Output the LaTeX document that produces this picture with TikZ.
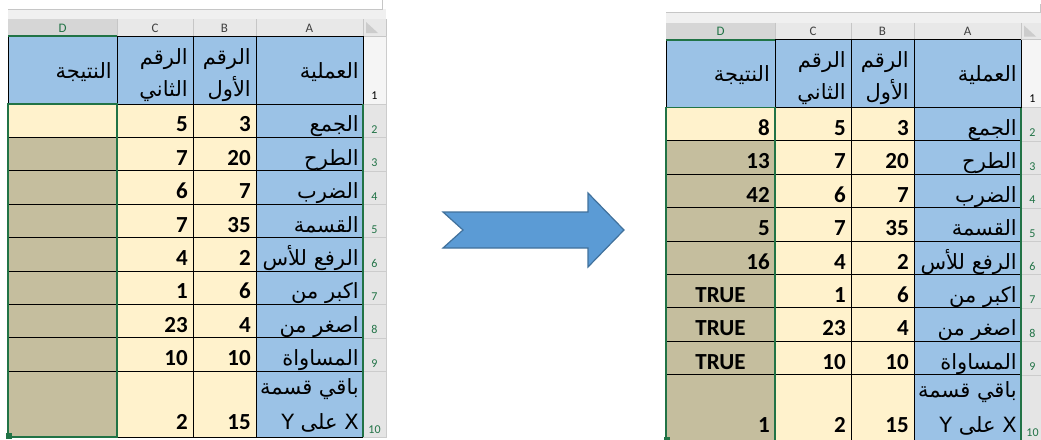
\documentclass[tikz,border=0pt]{standalone}
\usepackage{fontspec}
\setmainfont{Carlito}
\newfontfamily\arabicfont[Script=Arabic]{DejaVu Sans}
\TeXXeTstate=1

\definecolor{hdrblue}{RGB}{155,194,230}
\definecolor{cream}{RGB}{255,242,204}
\definecolor{tan}{RGB}{197,190,158}
\definecolor{xlgreen}{RGB}{33,115,70}
\definecolor{arrowblue}{RGB}{91,155,213}
\definecolor{arrowedge}{RGB}{65,113,156}

\tikzset{
  cellline/.style={draw=black, line width=0.9pt},
  numtxt/.style={anchor=base east, inner sep=0pt, font=\bfseries\fontsize{23}{23}\selectfont},
  optxt/.style={anchor=base east, inner sep=0pt, font=\arabicfont\fontsize{21}{21}\selectfont},
  colltr/.style={inner sep=0pt, font=\fontsize{13}{13}\selectfont, text=black!75},
  rowno/.style={anchor=base, inner sep=0pt, font=\fontsize{12}{12}\selectfont, text=xlgreen},
}

\newcommand{\ar}[1]{\beginR #1\endR}

% one sheet, #1 = prefix of the node names
\newcommand{\drawsheet}[1]{%
  \fill[gray!12] (8,9) rectangle (386,19);
  \draw[gray!45] (8,9) -- (382,9) -- (382,0);
  \fill[gray!18] (117,19) rectangle (386,36);
  \fill[gray!32] (8,19) rectangle (117,36);
  \fill[gray!8] (363,36) rectangle (386,104);
  \fill[gray!20] (363,104) rectangle (386,437);
  \fill[hdrblue] (8,36) rectangle (363,104);
  \fill[hdrblue] (256,104) rectangle (363,437);
  \fill[cream] (117,104) rectangle (256,437);
  \fill[cream] (8,104) rectangle (117,137.4);
  \fill[tan] (8,137.4) rectangle (117,437);
  \foreach \x in {117,193,256,363,386} \draw[gray!45] (\x,19) -- (\x,36);
  \draw[gray!45] (117,36) -- (386,36);
  \foreach \r in {0,...,8} \draw[gray!40] (363,{104+33.4*\r}) -- (386,{104+33.4*\r});
  \draw[gray!40] (363,437) -- (386,437) -- (386,36);
  \foreach \x in {8,117,193,256,363} \draw[cellline] (\x,36) -- (\x,437);
  \draw[cellline] (8,36) -- (363,36);
  \foreach \r in {0,...,8} \draw[cellline] (8,{104+33.4*\r}) -- (363,{104+33.4*\r});
  \draw[cellline] (8,437) -- (363,437);
  % selection
  \draw[xlgreen, line width=2pt] (8,36) -- (117,36);
  \draw[xlgreen, line width=1.6pt] (8,104) rectangle (117,437);
  \draw[xlgreen, line width=1.2pt] (363,104) -- (363,437);
  \fill[xlgreen] (6,433) rectangle (12,439);
  \fill[gray!40] (366,22) -- (366,33) -- (378,33) -- cycle;
  % column letters
  \node[colltr, text=xlgreen] (#1colD) at (62.5,28) {D};
  \node[colltr] (#1colC) at (155,28) {C};
  \node[colltr] (#1colB) at (224.5,28) {B};
  \node[colltr] (#1colA) at (309.5,28) {A};
  % row numbers
  \node[rowno, text=black] (#1n1) at (374.5,99) {1};
  \foreach \r in {2,...,9} \node[rowno] (#1n\r) at (374.5,{104+33.4*(\r-1)-4}) {\r};
  \node[rowno] (#1n10) at (374.5,433) {10};
  % header row
  \node[optxt] (#1hA) at (359,78) {\ar{العملية}};
  \node[optxt] (#1hB) at (251,64) {\ar{الرقم}};
  \node[optxt] (#1hBb) at (251,96) {\ar{الأول}};
  \node[optxt] (#1hC) at (188,64) {\ar{الرقم}};
  \node[optxt] (#1hCb) at (188,96) {\ar{الثاني}};
  \node[optxt] (#1hD) at (112,78) {\ar{النتيجة}};
  % data rows
  \foreach \r/\op/\b/\c in {2/الجمع/3/5, 3/الطرح/20/7, 4/الضرب/7/6, 5/القسمة/35/7,
      6/الرفع للأس/2/4, 7/اكبر من/6/1, 8/اصغر من/4/23, 9/المساواة/10/10} {
    \node[optxt] (#1op\r) at (359,{104+33.4*(\r-1)-5.5}) {\ar{\op}};
    \node[numtxt] (#1b\r) at (251,{104+33.4*(\r-1)-5.5}) {\b};
    \node[numtxt] (#1c\r) at (188,{104+33.4*(\r-1)-5.5}) {\c};
  }
  \node[optxt] (#1op10) at (359,394) {\ar{باقي قسمة}};
  \node[optxt] (#1op10b) at (359,429) {\ar{X على Y}};
  \node[numtxt] (#1b10) at (251,429) {15};
  \node[numtxt] (#1c10) at (188,429) {2};
}

\begin{document}
\begin{tikzpicture}[x=1pt, y=-1pt]
  \useasboundingbox (0,0) rectangle (1041,439);
  \clip (0,0) rectangle (1041,439);

  \drawsheet{L}

  \begin{scope}[shift={(658,3.5)}]
    \drawsheet{R}
    \foreach \r/\v in {2/8, 3/13, 4/42, 5/5, 6/16}
      \node[numtxt] (Rd\r) at (112,{104+33.4*(\r-1)-5.5}) {\v};
    \foreach \r in {7,8,9}
      \node[numtxt, anchor=base] (Rd\r) at (62.5,{104+33.4*(\r-1)-5.5}) {TRUE};
    \node[numtxt] (Rd10) at (112,429) {1};
  \end{scope}

  % arrow
  \draw[arrowedge, fill=arrowblue, line width=1.2pt, line join=miter]
    (443,212) -- (588,212) -- (588,193) -- (624,230) -- (588,267)
    -- (588,248) -- (443,248) -- (463,230) -- cycle;

\end{tikzpicture}
\end{document}
